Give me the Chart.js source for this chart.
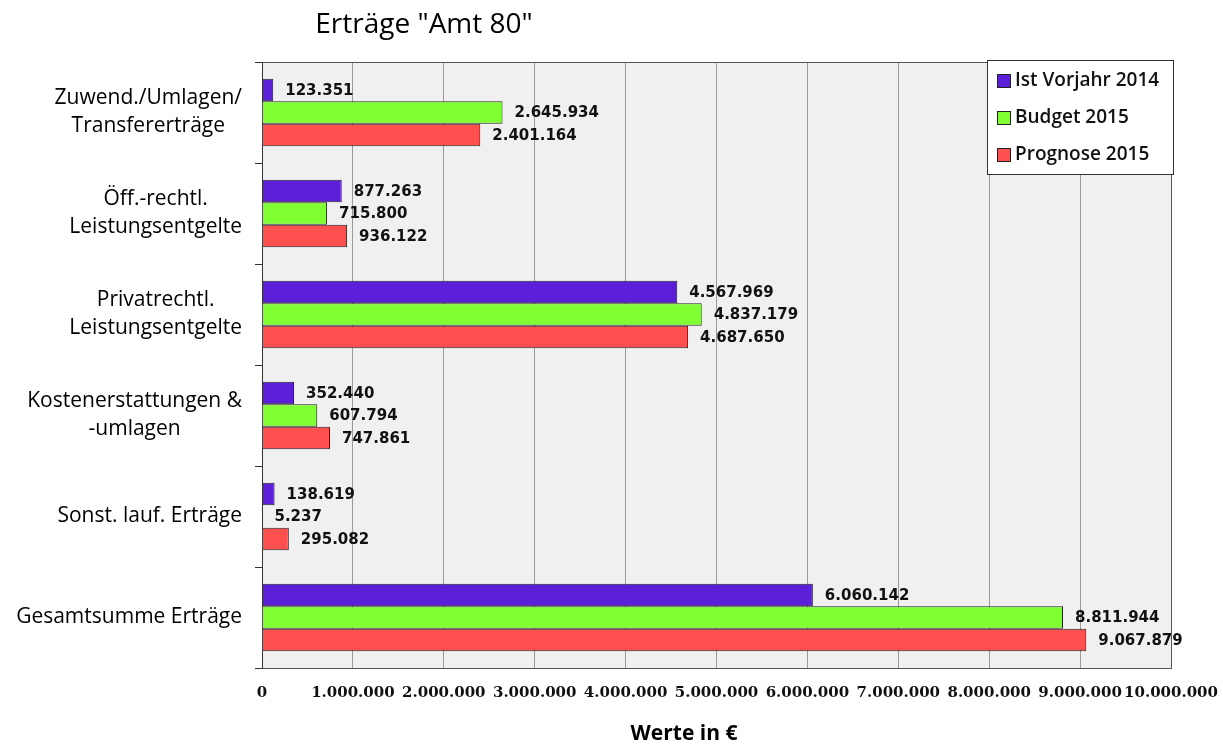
<!DOCTYPE html>
<html>
<head>
<meta charset="utf-8">
<script src="https://cdn.jsdelivr.net/npm/chart.js@4/dist/chart.umd.min.js"></script>
<style>
html,body{margin:0;padding:0;background:#fff;}
#c{display:block;}
</style>
</head>
<body>
<canvas id="c" width="1223" height="747"></canvas>
<script>
const categories = [
  ["Zuwend./Umlagen/", "Transfererträge"],
  ["Öff.-rechtl.", "Leistungsentgelte"],
  ["Privatrechtl.", "Leistungsentgelte"],
  ["Kostenerstattungen &", "-umlagen"],
  ["Sonst. lauf. Erträge"],
  ["Gesamtsumme Erträge"]
];
const seriesNames = ["Ist Vorjahr 2014", "Budget 2015", "Prognose 2015"];
const istVorjahr2014 = [123351, 877263, 4567969, 352440, 138619, 6060142];
const budget2015 = [2645934, 715800, 4837179, 607794, 5237, 8811944];
const prognose2015 = [2401164, 936122, 4687650, 747861, 295082, 9067879];
const xTickValues = [0, 1000000, 2000000, 3000000, 4000000, 5000000, 6000000, 7000000, 8000000, 9000000, 10000000];
const chartTitle = 'Erträge "Amt 80"';
const xAxisTitle = 'Werte in €';

const colors = ['#5a1fd6', '#80ff33', '#ff5050'];

function fmt(v) {
  return String(Math.round(v)).replace(/\B(?=(\d{3})+(?!\d))/g, '.');
}

const LABEL_FONT = '21px "Open Sans"';

const custom = {
  id: 'custom',
  beforeDraw(chart) {
    const { ctx, chartArea: a } = chart;
    ctx.save();
    ctx.fillStyle = '#f0f0f0';
    ctx.fillRect(a.left, a.top, a.right - a.left, a.bottom - a.top);
    ctx.restore();
  },
  afterDatasetsDraw(chart) {
    const ctx = chart.ctx;
    ctx.save();
    ctx.font = 'bold 15px "DejaVu Sans"';
    ctx.fillStyle = '#111';
    ctx.textAlign = 'left';
    ctx.textBaseline = 'middle';
    chart.data.datasets.forEach((ds, di) => {
      const meta = chart.getDatasetMeta(di);
      meta.data.forEach((bar, i) => {
        ctx.fillText(fmt(ds.data[i]), bar.x + 12, bar.y + 1);
      });
    });
    ctx.restore();
  },
  afterDraw(chart) {
    const { ctx, chartArea: a } = chart;
    const yScale = chart.scales.y;
    ctx.save();
    ctx.strokeStyle = '#555';
    ctx.lineWidth = 1;
    ctx.beginPath();
    ctx.moveTo(a.left, a.top + 0.5);
    ctx.lineTo(a.right + 0.5, a.top + 0.5);
    ctx.lineTo(a.right + 0.5, a.bottom);
    ctx.stroke();

    ctx.font = LABEL_FONT;
    ctx.fillStyle = '#000';
    ctx.textAlign = 'center';
    ctx.textBaseline = 'middle';
    const lineH = 28;
    categories.forEach((lines, i) => {
      const cy = yScale.getPixelForValue(i);
      const maxW = Math.max(...lines.map(l => ctx.measureText(l).width));
      const cx = 242 - maxW / 2;
      const y0 = cy - (lines.length - 1) * lineH / 2;
      lines.forEach((l, k) => ctx.fillText(l, cx, y0 + k * lineH));
    });

    ctx.font = '28px "Open Sans"';
    ctx.fillStyle = '#000';
    ctx.textAlign = 'center';
    ctx.fillText(chartTitle, 424, 25);

    ctx.font = 'bold 21px "Open Sans"';
    ctx.fillText(xAxisTitle, 684, 734);

    const lx = 987, ly = 60, lw = 186, lh = 114;
    ctx.fillStyle = '#fff';
    ctx.fillRect(lx, ly, lw, lh);
    ctx.strokeStyle = '#333';
    ctx.strokeRect(lx + 0.5, ly + 0.5, lw, lh);
    const rows = [81, 118, 155];
    ctx.font = '600 19px "Open Sans"';
    ctx.textAlign = 'left';
    chart.data.datasets.forEach((ds, di) => {
      const ry = rows[di];
      ctx.fillStyle = ds.backgroundColor;
      ctx.fillRect(997, ry - 7, 14, 14);
      ctx.strokeStyle = '#222';
      ctx.strokeRect(997.5, ry - 6.5, 13, 13);
      ctx.fillStyle = '#111';
      ctx.fillText(ds.label, 1015, ry);
    });
    ctx.restore();
  }
};

new Chart(document.getElementById('c'), {
  type: 'bar',
  data: {
    labels: categories.map(c => c.join(' ')),
    datasets: [
      { label: seriesNames[0], data: istVorjahr2014, backgroundColor: colors[0] },
      { label: seriesNames[1], data: budget2015, backgroundColor: colors[1] },
      { label: seriesNames[2], data: prognose2015, backgroundColor: colors[2] }
    ]
  },
  options: {
    indexAxis: 'y',
    responsive: false,
    animation: false,
    devicePixelRatio: 1,
    layout: { padding: { top: 62, right: 52, left: 0, bottom: 0 } },
    datasets: {
      bar: {
        categoryPercentage: 0.67,
        barPercentage: 1.0,
        borderWidth: 1,
        borderColor: '#222'
      }
    },
    plugins: {
      legend: { display: false },
      title: { display: false },
      tooltip: { enabled: false }
    },
    scales: {
      x: {
        type: 'linear',
        min: 0,
        max: 10000000,
        afterBuildTicks(scale) {
          scale.ticks = xTickValues.map(v => ({ value: v }));
        },
        afterFit(scale) {
          scale.height = 79;
          scale.paddingLeft = 0;
          scale.paddingRight = 0;
        },
        grid: { color: '#999', lineWidth: 1, drawTicks: false },
        border: { color: '#555', width: 1 },
        ticks: {
          padding: 16,
          color: '#111',
          font: { family: 'DejaVu Serif', weight: 'bold', size: 15 },
          callback: v => fmt(v),
          maxRotation: 0,
          autoSkip: false
        }
      },
      y: {
        type: 'category',
        afterFit(scale) { scale.width = 262; },
        grid: { drawOnChartArea: false, drawTicks: true, tickLength: 7, color: '#333', offset: true },
        border: { color: '#333', width: 1 },
        ticks: { display: false }
      }
    }
  },
  plugins: [custom]
});
</script>
</body>
</html>
